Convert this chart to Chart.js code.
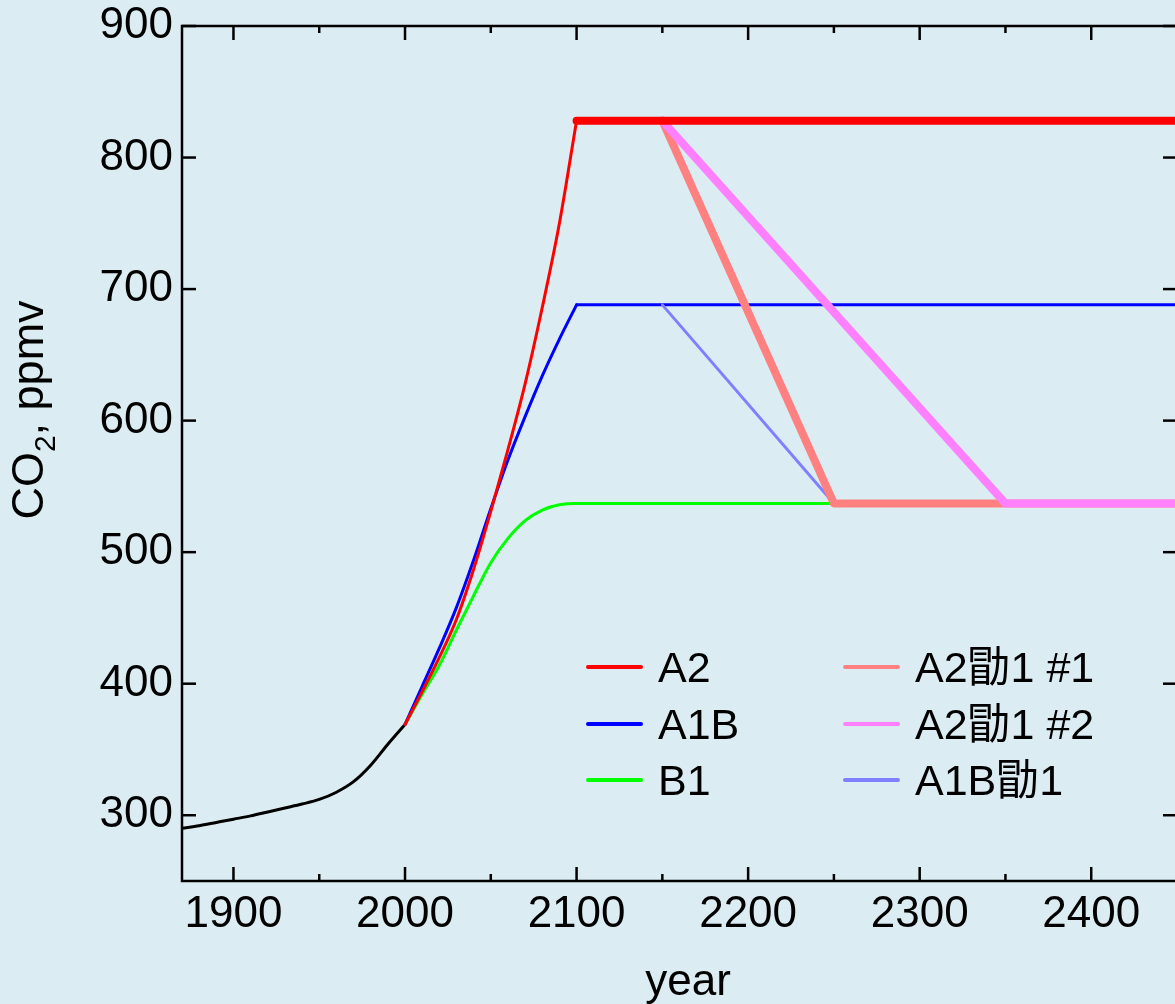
<!DOCTYPE html>
<html>
<head>
<meta charset="utf-8">
<title>CO2 stabilization scenarios</title>
<script src="https://cdn.jsdelivr.net/npm/chart.js"></script>
<style>
  html, body { margin: 0; padding: 0; background: #dbedf3; overflow: hidden; }
  canvas { display: block; }
</style>
</head>
<body>
<canvas id="co2Chart" width="1180" height="1004"></canvas>
<script>
// values
const histYears = [1870, 1880, 1890, 1900, 1910, 1920, 1930, 1940, 1950, 1960, 1970, 1980, 1990, 2000];
const histCO2   = [290, 292, 294.5, 297, 299.5, 302.5, 305.5, 308.5, 312, 317.5, 325.5, 338, 354, 369];

const futYears = [2000, 2010, 2020, 2030, 2040, 2050, 2060, 2070, 2080, 2090, 2100];
const a2CO2    = [369, 394, 420, 449, 487, 531, 578, 628, 686, 750, 828];
const a1bCO2   = [369, 398, 427, 458, 494, 533, 570, 603, 634, 662, 688];

const b1Years = [2000, 2010, 2020, 2030, 2040, 2050, 2060, 2070, 2080, 2090, 2100, 2250];
const b1CO2   = [369, 392, 414, 441, 467, 492, 510.5, 524, 532, 536, 537, 537];

const a2FlatYears  = [2100, 2450];
const a2FlatCO2    = [828, 828];
const a1bFlatYears = [2100, 2450];
const a1bFlatCO2   = [688, 688];

const a2Cut1Years = [2150, 2250, 2450];
const a2Cut1CO2   = [828, 537, 537];
const a2Cut2Years = [2150, 2350, 2450];
const a2Cut2CO2   = [828, 537, 537];
const a1bCutYears = [2150, 2250];
const a1bCutCO2   = [688, 537];

const xTicks = [1900, 2000, 2100, 2200, 2300, 2400];
const xMinorTicks = [1950, 2050, 2150, 2250, 2350];
const yTicks = [300, 400, 500, 600, 700, 800, 900];

const pts = (xs, ys) => xs.map((x, i) => ({ x: x, y: ys[i] }));

const FONT = "'Liberation Sans', Arial, 'Noto Sans CJK SC', sans-serif";

// axes frame with inward ticks on all four sides
const frame = {
  id: 'frame',
  afterDatasetsDraw(chart) {
    const { ctx, chartArea: a, scales } = chart;
    const line = (x1, y1, x2, y2) => { ctx.beginPath(); ctx.moveTo(x1, y1); ctx.lineTo(x2, y2); ctx.stroke(); };
    ctx.save();
    ctx.strokeStyle = '#000';
    ctx.lineWidth = 2.5;
    ctx.strokeRect(a.left, a.top, a.right - a.left, a.bottom - a.top);
    xTicks.forEach(v => {
      const px = scales.x.getPixelForValue(v);
      line(px, a.bottom, px, a.bottom - 14);
      line(px, a.top, px, a.top + 14);
    });
    xMinorTicks.forEach(v => {
      const px = scales.x.getPixelForValue(v);
      line(px, a.bottom, px, a.bottom - 7);
      line(px, a.top, px, a.top + 7);
    });
    yTicks.forEach(v => {
      const py = scales.y.getPixelForValue(v);
      line(a.left, py, a.left + 14, py);
      line(a.right, py, a.right - 14, py);
    });
    ctx.restore();
  }
};

// two column legend inside the plot + axis titles
const extras = {
  id: 'extras',
  afterDraw(chart) {
    const ctx = chart.ctx;
    ctx.save();
    ctx.fillStyle = '#000';
    ctx.textBaseline = 'alphabetic';

    const items = chart.data.datasets.filter(d => d.label);
    const cols = [586, 843];
    const rows = [667, 724, 780];
    ctx.font = '43px ' + FONT;
    items.forEach((d, i) => {
      const x0 = cols[Math.floor(i / 3)];
      const y0 = rows[i % 3];
      ctx.strokeStyle = d.borderColor;
      ctx.lineWidth = 4;
      ctx.lineCap = 'round';
      ctx.beginPath(); ctx.moveTo(x0 + 2, y0); ctx.lineTo(x0 + 55, y0); ctx.stroke();
      ctx.fillText(d.label, x0 + 72, y0 + 15);
    });

    // x title
    ctx.font = '44px ' + FONT;
    ctx.textAlign = 'center';
    ctx.fillText('year', 688, 995);

    // y title with subscript
    ctx.translate(43, 410);
    ctx.rotate(-Math.PI / 2);
    ctx.textAlign = 'left';
    const big = '45px ' + FONT, small = '30px ' + FONT;
    ctx.font = big; const w1 = ctx.measureText('CO').width, w3 = ctx.measureText(', ppmv').width;
    ctx.font = small; const w2 = ctx.measureText('2').width;
    let x = -(w1 + w2 + w3) / 2;
    ctx.font = big; ctx.fillText('CO', x, 0); x += w1;
    ctx.font = small; ctx.fillText('2', x, 12); x += w2;
    ctx.font = big; ctx.fillText(', ppmv', x, 0);
    ctx.restore();
  }
};

const thin = { pointRadius: 0, borderWidth: 3, fill: false, borderJoinStyle: 'round', borderCapStyle: 'round' };
const thick = { pointRadius: 0, borderWidth: 8, fill: false, borderJoinStyle: 'round', borderCapStyle: 'round' };

new Chart(document.getElementById('co2Chart'), {
  type: 'line',
  data: {
    datasets: [
      Object.assign({ label: 'A2', data: pts(futYears, a2CO2), borderColor: '#ff0000', cubicInterpolationMode: 'monotone', order: 4 }, thin),
      Object.assign({ label: 'A1B', data: pts(futYears, a1bCO2), borderColor: '#0000ff', cubicInterpolationMode: 'monotone', order: 6 }, thin),
      Object.assign({ label: 'B1', data: pts(b1Years, b1CO2), borderColor: '#00ff00', cubicInterpolationMode: 'monotone', order: 7 }, thin),
      Object.assign({ label: 'A2勖1 #1', data: pts(a2Cut1Years, a2Cut1CO2), borderColor: '#ff8080', order: 2 }, thick),
      Object.assign({ label: 'A2勖1 #2', data: pts(a2Cut2Years, a2Cut2CO2), borderColor: '#ff80ff', order: 1 }, thick),
      Object.assign({ label: 'A1B勖1', data: pts(a1bCutYears, a1bCutCO2), borderColor: '#8080ff', order: 3 }, thin),
      Object.assign({ label: '', data: pts(a2FlatYears, a2FlatCO2), borderColor: '#ff0000', order: 0 }, thick),
      Object.assign({ label: '', data: pts(a1bFlatYears, a1bFlatCO2), borderColor: '#0000ff', order: 5 }, thin),
      Object.assign({ label: '', data: pts(histYears, histCO2), borderColor: '#000000', cubicInterpolationMode: 'monotone', order: 8 }, thin)
    ]
  },
  options: {
    responsive: false,
    animation: false,
    devicePixelRatio: 1,
    layout: { padding: { top: 26, right: 3, left: 0, bottom: 0 } },
    plugins: { legend: { display: false }, tooltip: { enabled: false } },
    scales: {
      x: {
        type: 'linear', min: 1870, max: 2450,
        grid: { display: false, drawTicks: false },
        border: { display: false },
        afterBuildTicks: s => { s.ticks = xTicks.map(v => ({ value: v })); },
        afterFit: s => { s.height = 123; s.paddingLeft = 0; s.paddingRight = 0; },
        ticks: { color: '#000', font: { family: FONT, size: 44 }, padding: 7, maxRotation: 0, autoSkip: false, callback: v => String(v) }
      },
      y: {
        type: 'linear', min: 250, max: 900,
        grid: { display: false, drawTicks: false },
        border: { display: false },
        afterBuildTicks: s => { s.ticks = yTicks.map(v => ({ value: v })); },
        afterFit: s => { s.width = 182; s.paddingTop = 0; s.paddingBottom = 0; },
        ticks: { color: '#000', font: { family: FONT, size: 44 }, padding: 9, callback: v => String(v) }
      }
    }
  },
  plugins: [frame, extras]
});
</script>
</body>
</html>
